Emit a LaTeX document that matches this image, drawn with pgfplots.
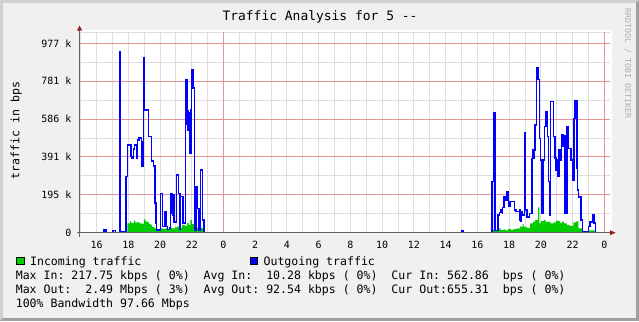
\documentclass[border=0pt]{standalone}
\usepackage{fontspec}
\setmonofont{DejaVu Sans Mono}
\usepackage{pgfplots}
\pgfplotsset{compat=1.18}
\definecolor{bgc}{RGB}{240,240,240}
\definecolor{frameL}{RGB}{208,208,208}
\definecolor{frameD}{RGB}{160,160,160}
\definecolor{mgrid}{RGB}{228,150,150}
\definecolor{ngrid}{RGB}{222,222,222}
\definecolor{inc}{RGB}{0,204,0}
\definecolor{outc}{RGB}{0,0,255}
\definecolor{axc}{RGB}{96,96,96}
\definecolor{arrc}{RGB}{150,30,30}
\definecolor{wm}{RGB}{176,176,176}
\newcommand\fs[1]{\ttfamily\fontsize{#1}{#1}\selectfont}
\begin{document}
\begin{tikzpicture}[x=1bp,y=1bp]
\useasboundingbox (0,0) rectangle (639,321);
\fill[frameD] (0,0) rectangle (639,321);
\fill[frameL] (0,0) -- (3,3.5) -- (3,318) -- (635.5,318) -- (639,321) -- (0,321) -- cycle;
\fill[bgc] (3,3.5) rectangle (635.5,318);
\fill[white] (80,88.3) rectangle (611.7,291);
\begin{axis}[
  at={(80bp,88.3bp)}, anchor=south west, scale only axis,
  width=530bp, height=200.4bp,
  xmin=14.96, xmax=48.35, ymin=0, ymax=1033.7,
  axis line style={draw=none},
  xtick={16,18,...,48},
  xticklabels={16,18,20,22,0,2,4,6,8,10,12,14,16,18,20,22,0},
  ytick={0,195.3125,390.625,585.9375,781.25,976.5625},
  yticklabels={0,195~k,391~k,586~k,781~k,977~k},
  minor xtick={15,16,...,23,25,26,...,47},
  minor ytick={97.65625,292.96875,488.28125,683.59375,878.90625,1033.7},
  xminorgrids=true, yminorgrids=true, ymajorgrids=true, xmajorgrids=false,
  minor grid style={ngrid, line width=1bp},
  major grid style={mgrid, line width=1bp},
  major tick length=0pt, minor tick length=0pt,
  /pgf/number format/assume math mode=true,
  ticklabel style={font=\fs{10}, text=black, inner sep=0pt},
  xticklabel style={anchor=north, yshift=-8bp},
  yticklabel style={anchor=east, xshift=-8.5bp},
  clip=false,
]
\draw[mgrid, line width=1.2bp] (axis cs:24,0) -- (axis cs:24,1033.7);
\draw[mgrid, line width=1.2bp] (axis cs:48,0) -- (axis cs:48,1033.7);
\addplot[const plot, fill=inc, draw=none] coordinates {
(14.96,1) (17.94,48) (18.10,58) (18.20,50) (18.35,62) (18.45,52) (18.57,55) (18.70,48) (18.88,45) (18.98,69) (19.08,58) (19.20,55) (19.30,45) (19.41,40) (19.50,30) (19.61,25) (19.72,20) (19.83,18) (19.95,15) (20.03,22) (20.20,18) (20.35,24) (20.50,20) (20.66,25) (20.80,22) (20.95,28) (21.09,32) (21.25,25) (21.40,40) (21.55,35) (21.71,50) (21.80,40) (21.92,65) (22.00,45) (22.13,30) (22.25,20) (22.34,25) (22.45,15) (22.55,23) (22.72,1)
(40.99,14) (41.10,8) (41.32,22) (41.45,15) (41.64,16) (41.80,12) (41.93,20) (42.10,14) (42.27,18) (42.50,22) (42.69,31) (42.85,45) (42.91,31) (43.10,25) (43.32,48) (43.51,57) (43.63,65) (43.82,131) (43.90,48) (44.00,60) (44.16,65) (44.30,55) (44.47,57) (44.60,48) (44.79,53) (44.95,62) (45.08,60) (45.20,50) (45.31,57) (45.45,48) (45.63,40) (45.80,35) (46.04,53) (46.20,58) (46.36,22) (46.57,5) (46.99,12) (47.41,1) (48.0,1)
} \closedcycle;
\addplot[const plot, draw=outc, line width=1.4bp] coordinates {
(14.96,1) (16.48,15) (16.60,1) (17.05,12) (17.20,1) (17.45,935) (17.53,4) (17.86,289) (17.96,452) (18.18,392) (18.23,385) (18.32,432) (18.40,452) (18.52,385) (18.59,478) (18.67,488) (18.84,340) (18.88,470) (18.91,340) (18.96,903) (19.04,633) (19.26,495) (19.45,370) (19.58,344) (19.68,153) (19.74,50) (19.78,14) (20.03,203) (20.16,31) (20.27,108) (20.37,31) (20.47,15) (20.60,25) (20.66,200) (20.71,100) (20.75,203) (20.79,90) (20.83,195) (20.87,55) (21.04,298) (21.15,203) (21.25,15) (21.29,186) (21.44,50) (21.62,788) (21.70,560) (21.74,630) (21.77,530) (21.81,620) (21.85,410) (21.95,633) (22.00,839) (22.09,746) (22.19,14) (22.26,235) (22.34,125) (22.46,14) (22.55,323) (22.67,65) (22.76,1)
(39.02,10) (39.10,1) (40.91,263) (41.02,619) (41.10,10) (41.29,91) (41.37,103) (41.49,117) (41.56,100) (41.59,130) (41.66,186) (41.75,169) (41.85,211) (41.95,134) (42.04,160) (42.33,117) (42.42,108) (42.63,65) (42.67,117) (42.71,60) (42.75,110) (42.80,91) (42.95,516) (43.02,117) (43.13,82) (43.27,100) (43.43,384) (43.51,427) (43.55,384) (43.59,427) (43.63,556) (43.73,853) (43.82,790) (43.89,487) (43.97,375) (44.06,100) (44.16,375) (44.23,547) (44.31,624) (44.42,495) (44.47,263) (44.53,91) (44.60,676) (44.79,495) (44.89,385) (44.94,323) (44.99,375) (45.04,289) (45.13,427) (45.21,375) (45.29,504) (45.33,445) (45.38,504) (45.42,460) (45.46,500) (45.51,100) (45.63,547) (45.75,435) (45.88,375) (46.01,272) (46.09,590) (46.15,681) (46.26,330) (46.31,220) (46.36,185) (46.51,65) (46.61,3) (46.99,31) (47.09,55) (47.24,91) (47.35,50) (47.45,1) (48.0,1)
};
\end{axis}
\draw[axc, line width=1bp] (79.5,84) -- (79.5,292);
\fill[arrc] (77,290.5) -- (82,290.5) -- (79.5,295.5) -- cycle;
\draw[axc, line width=1bp] (77,88.3) -- (611,88.3);
\fill[arrc] (610,85.8) -- (610,90.8) -- (615.5,88.3) -- cycle;
\node[anchor=base, inner sep=0pt, font=\fs{13}] at (320,300.3) {Traffic Analysis for 5 --};
\node[anchor=base, rotate=90, inner sep=0pt, font=\fs{11.6}] at (19.3,190.5) {traffic in bps};
\node[anchor=base west, rotate=-90, inner sep=0pt, font=\fs{8.3}, text=wm] at (625,312.7) {RRDTOOL / TOBI OETIKER};
\filldraw[fill=inc, draw=black, line width=0.8bp] (16.5,56.2) rectangle (24.3,64.1);
\node[anchor=base west, inner sep=0pt, font=\fs{11.6}] at (29.9,55.3) {Incoming~traffic};
\filldraw[fill=outc, draw=black, line width=0.8bp] (250,56.2) rectangle (257.8,64.1);
\node[anchor=base west, inner sep=0pt, font=\fs{11.6}] at (263.4,55.3) {Outgoing~traffic};
\node[anchor=base west, inner sep=0pt, font=\fs{11.6}] at (15.6,42) {Max~In:~217.75~kbps~(~0\%)~~Avg~In:~~10.28~kbps~(~0\%)~~Cur~In:~562.86~~bps~(~0\%)};
\node[anchor=base west, inner sep=0pt, font=\fs{11.6}] at (15.6,27.7) {Max~Out:~~2.49~Mbps~(~3\%)~~Avg~Out:~92.54~kbps~(~0\%)~~Cur~Out:655.31~~bps~(~0\%)};
\node[anchor=base west, inner sep=0pt, font=\fs{11.6}] at (15.6,13.7) {100\%~Bandwidth~97.66~Mbps};
\end{tikzpicture}
\end{document}
